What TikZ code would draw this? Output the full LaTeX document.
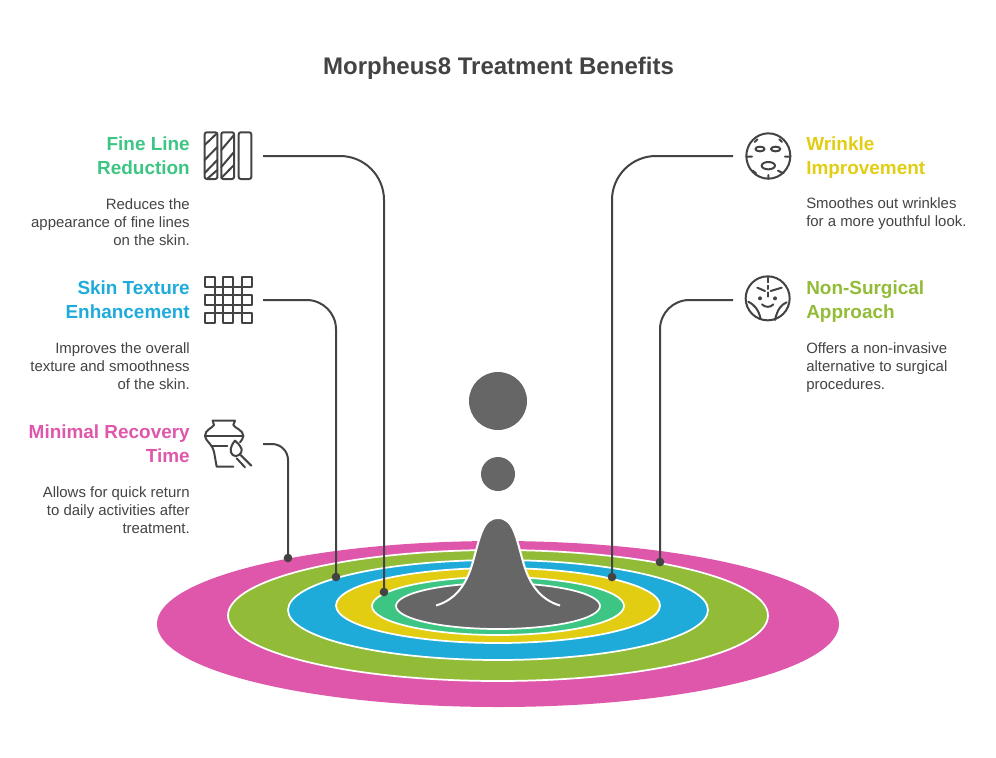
\documentclass[tikz,border=0pt]{standalone}
\usepackage{fontspec}
\setmainfont{Liberation Sans}
\definecolor{ink}{HTML}{434343}
\definecolor{peak}{HTML}{666666}
\definecolor{cgreen}{HTML}{3CC583}
\definecolor{cblue}{HTML}{1EABDA}
\definecolor{cpink}{HTML}{DF57AB}
\definecolor{cyellow}{HTML}{E2CD13}
\definecolor{colive}{HTML}{92BC37}
\tikzset{
  ring/.style={draw=white,line width=1.3pt},
  conn/.style={draw=ink,line width=1.5pt},
  enddot/.style={circle,fill=ink,inner sep=0pt,minimum size=6.5pt},
  icon/.style={draw=ink,line width=1.5pt,line cap=round,line join=round},
  head/.style={font=\fontsize{14.2}{18}\selectfont\bfseries,inner sep=0pt},
  body/.style={font=\fontsize{11.2}{13.5}\selectfont,text=ink,inner sep=0pt},
  lhead/.style={head,anchor=east,align=right},
  rhead/.style={head,anchor=west,align=left},
  lbody/.style={body,anchor=east,align=right},
  rbody/.style={body,anchor=west,align=left},
}
\begin{document}
\begin{tikzpicture}[x=0.75pt,y=-0.75pt]
\useasboundingbox (0,0) rectangle (996,757);
% rings
\fill[cpink] (498,624) ellipse [x radius=341,y radius=83];
\path[ring,fill=colive] (498,615.5) ellipse [x radius=270,y radius=65.5];
\path[ring,fill=cblue] (498,610) ellipse [x radius=210,y radius=50];
\path[ring,fill=cyellow] (498,605.5) ellipse [x radius=162,y radius=37.5];
\path[ring,fill=cgreen] (498,606) ellipse [x radius=126,y radius=29];
\path[ring,fill=peak] (498,606) ellipse [x radius=102,y radius=23];
% drops
\node[circle,fill=peak,inner sep=0pt,minimum size=43.5pt] (drop1) at (498,401) {};
\node[circle,fill=peak,inner sep=0pt,minimum size=25.5pt] (drop2) at (498,474) {};
\fill[peak] (436,605.5) .. controls (455,600) and (466,585) .. (472,565) .. controls (480,538) and (482,518) .. (498,518) .. controls (514,518) and (516,538) .. (524,565) .. controls (530,585) and (541,600) .. (560,605.5) -- cycle;
\draw[white,line width=1.5pt] (436,605.5) .. controls (455,600) and (466,585) .. (472,565) .. controls (480,538) and (482,518) .. (498,518) .. controls (514,518) and (516,538) .. (524,565) .. controls (530,585) and (541,600) .. (560,605.5);
% title
\node[font=\fontsize{18}{22}\selectfont\bfseries,text=ink,inner sep=0pt] (title) at (498.5,68) {Morpheus8 Treatment Benefits};
% left texts
\node[lhead,text=cgreen] (h1) at (190,156) {Fine Line\\Reduction};
\node[lbody] (b1) at (190,222) {Reduces the\\appearance of fine lines\\on the skin.};
\node[lhead,text=cblue] (h2) at (190,300) {Skin Texture\\Enhancement};
\node[lbody] (b2) at (190,366) {Improves the overall\\texture and smoothness\\of the skin.};
\node[lhead,text=cpink] (h3) at (190,444) {Minimal Recovery\\Time};
\node[lbody] (b3) at (190,510) {Allows for quick return\\to daily activities after\\treatment.};
% right texts
\node[rhead,text=cyellow] (h4) at (806,158) {Wrinkle\\Improvement};
\node[rbody] (b4) at (806,214) {Smoothes out wrinkles\\for a more youthful look.};
\node[rhead,text=colive] (h5) at (806,302) {Non-Surgical\\Approach};
\node[rbody] (b5) at (806,367.5) {Offers a non-invasive\\alternative to surgical\\procedures.};
% connectors
\node[enddot] (d1) at (384,592) {};
\node[enddot] (d2) at (336,577) {};
\node[enddot] (d3) at (288,558) {};
\node[enddot] (d4) at (612,577) {};
\node[enddot] (d5) at (660,562) {};
\coordinate (s1) at (263,156);
\coordinate (s2) at (263,300);
\coordinate (s3) at (263,444);
\coordinate (s4) at (733,156);
\coordinate (s5) at (733,300);
\draw[conn,rounded corners=33pt] (s1) -| (d1.center);
\draw[conn,rounded corners=22pt] (s2) -| (d2.center);
\draw[conn,rounded corners=12pt] (s3) -| (d3.center);
\draw[conn,rounded corners=33pt] (s4) -| (d4.center);
\draw[conn,rounded corners=22pt] (s5) -| (d5.center);
% icon 1: hatched bars
\begin{scope}[icon]
\draw[rounded corners=1.5pt] (204.7,132.3) rectangle (217.3,179);
\draw[rounded corners=1.5pt] (221.3,132.3) rectangle (234,179);
\draw[rounded corners=1.5pt] (238.7,132.3) rectangle (251.3,179);
\draw (204.7,145) -- (217.3,133) (204.7,160) -- (217.3,147) (204.7,173) -- (217.3,160) (207,179) -- (217.3,170);
\draw (221.3,150) -- (234,135) (221.3,167) -- (234,152) (221.3,178) -- (234,165);
\end{scope}
% icon 2: weave
\begin{scope}[icon,line width=1.5pt,line cap=butt]
\foreach \x in {204.7,223,241.7}\foreach \y in {276.7,295,313}
  \draw (\x,\y) rectangle ++(10,10);
\foreach \y in {286.7,295,305,313} \draw (214.7,\y) -- (241.7,\y);
\foreach \x in {214.7,223,233,241.7} \draw (\x,286.7) -- (\x,313);
\end{scope}
% icon 3: vase and brush
\begin{scope}[shift={(190,410)},x=0.25pt,y=-0.25pt,icon]
\draw (68,32) -- (135,32) (135,32) -- (130,45) .. controls (135,55) and (160,60) .. (160,78) .. controls (160,85) and (155,90) .. (150,97);
\draw (68,32) -- (72,45) .. controls (65,55) and (45,60) .. (45,78) .. controls (45,92) and (70,105) .. (72,125) -- (80,170) -- (130,170);
\draw (45,78) -- (160,78) (64,107) -- (112,107);
\draw (135,92) .. controls (120,110) and (118,125) .. (128,135) .. controls (140,145) and (158,130) .. (155,118) .. controls (150,105) and (142,98) .. (135,92) -- cycle;
\draw (140,145) -- (165,172) (152,135) -- (184,167);
\end{scope}
% icon 4: mask face
\begin{scope}[shift={(730,120)},x=0.25pt,y=-0.25pt,icon]
\draw (115,108) ellipse [x radius=66,y radius=68];
\draw (90,87) ellipse [x radius=14,y radius=7];
\draw (137,87) ellipse [x radius=14,y radius=7];
\draw (115,137) ellipse [x radius=20,y radius=11];
\draw (82,58) -- (74,66) (148,58) -- (156,66) (49,110) -- (66,110) (165,110) -- (181,110);
\draw (68,152) -- (78,160) (144,152) -- (160,160) (115,165) -- (115,176);
\end{scope}
% icon 5: face
\begin{scope}[shift={(730,265)},x=0.25pt,y=-0.25pt,icon]
\draw (113,100) circle [radius=66];
\draw (113,38) -- (113,52) (113,62) -- (113,72) (113,82) -- (113,95);
\draw (82,68) -- (105,78) (122,78) -- (155,68);
\fill[ink] (90,100) circle [radius=6] (135,100) circle [radius=6];
\draw (96,118) .. controls (105,128) and (122,128) .. (130,118);
\draw (55,110) .. controls (70,118) and (85,130) .. (92,162);
\draw (170,112) .. controls (155,118) and (142,132) .. (135,165);
\end{scope}
\end{tikzpicture}
\end{document}
